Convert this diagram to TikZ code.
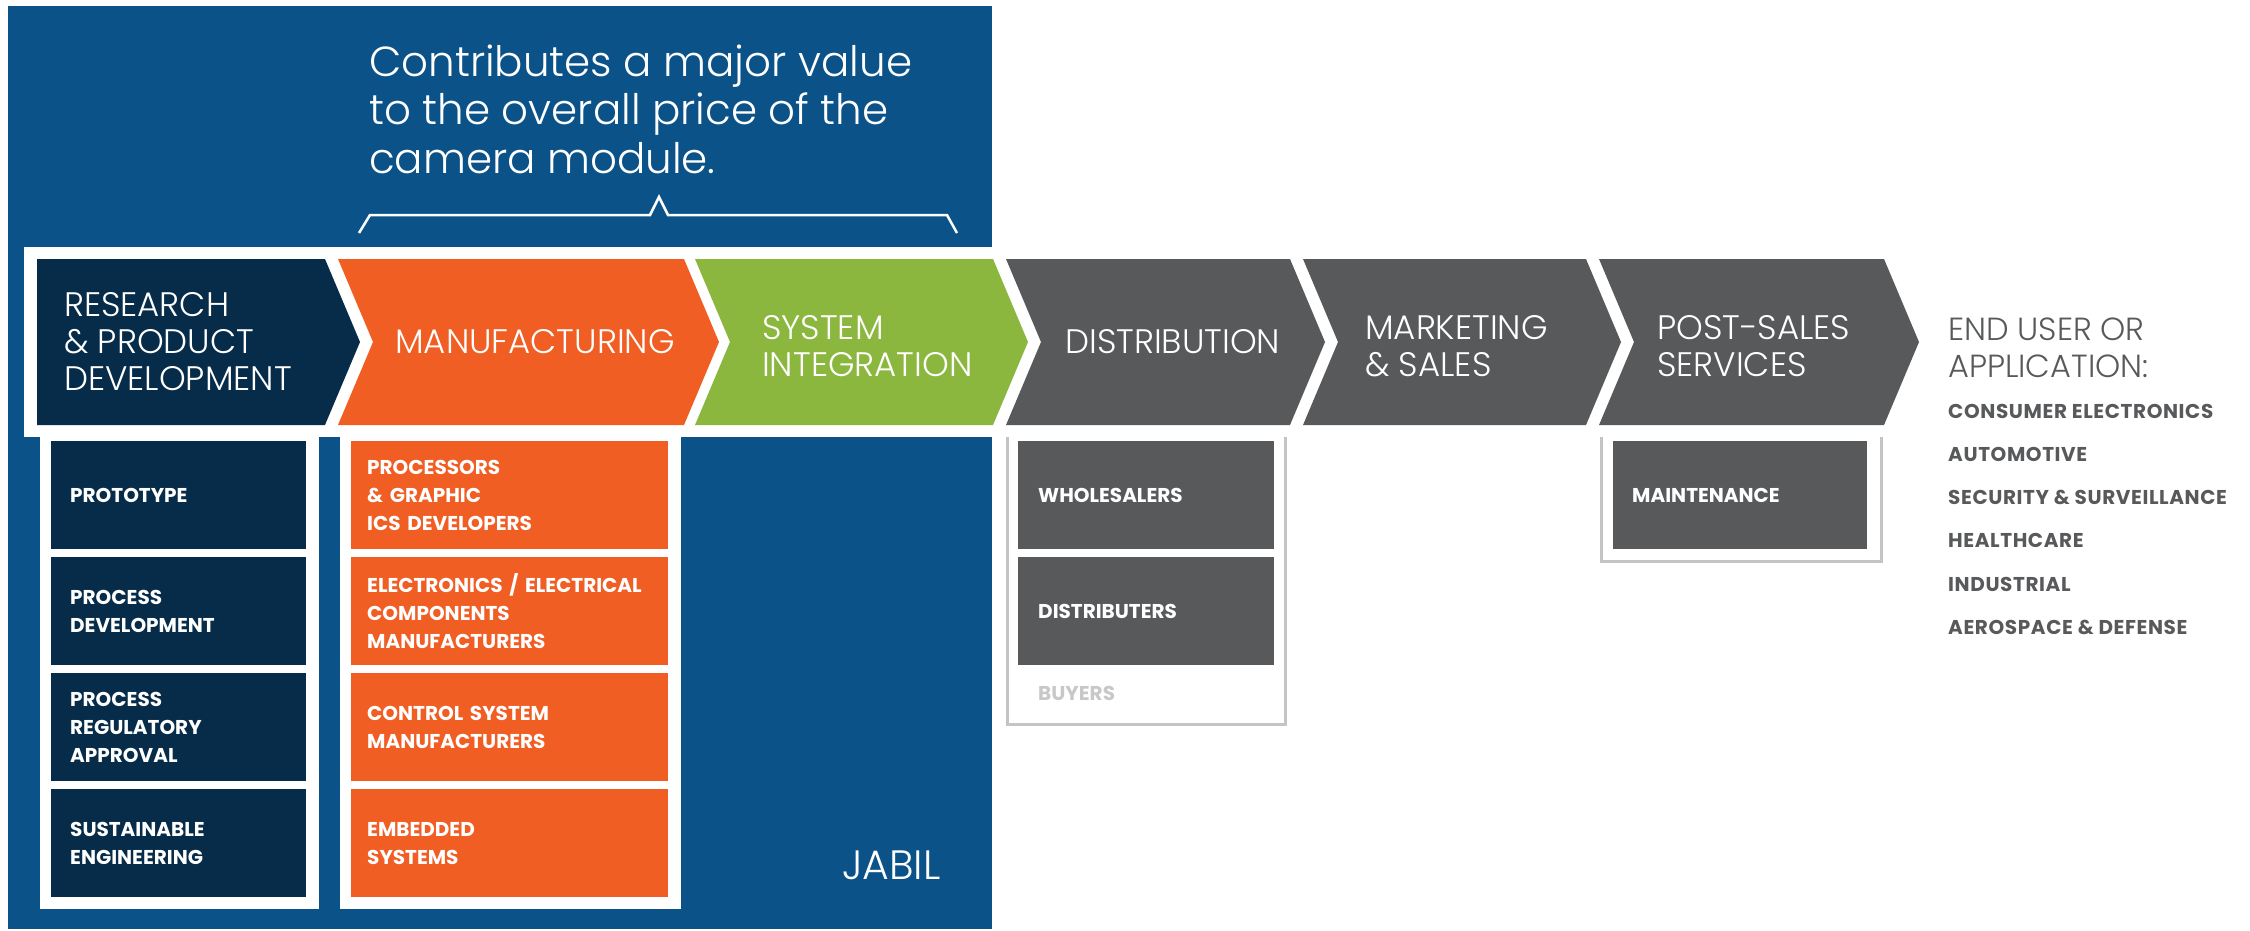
\documentclass[tikz,border=0pt]{standalone}
\usepackage{fontspec}
\setmainfont{Poppins}
\IfFontExistsTF{Poppins Light}{\newfontfamily\lightfont{Poppins Light}}{\newfontfamily\lightfont{Poppins}}
\definecolor{jabilblue}{HTML}{0B5289}
\definecolor{rdnavy}{HTML}{062C49}
\definecolor{mfgorange}{HTML}{F15E24}
\definecolor{sysgreen}{HTML}{8CB73F}
\definecolor{chaingray}{HTML}{58595B}
\definecolor{framegray}{HTML}{C4C4C4}
\definecolor{buyergray}{HTML}{C8C8C8}
\begin{document}
\begin{tikzpicture}[x=1pt, y=-1pt,
    headtext/.style={anchor=west, align=left, text=white, inner sep=0pt, font={\lightfont\fontsize{34}{37}\selectfont}},
    subbox/.style={anchor=north west, align=left, text=white, minimum height=108pt, inner ysep=0pt,
        font={\fontsize{20}{28}\selectfont\bfseries\hyphenpenalty=10000}},
    rdbox/.style={subbox, fill=rdnavy, text width=217pt, inner xsep=19pt},
    mfgbox/.style={subbox, fill=mfgorange, text width=285pt, inner xsep=16pt},
    graybox/.style={subbox, fill=chaingray, text width=216pt, inner xsep=20pt},
    useritem/.style={anchor=base west, inner sep=0pt, text=chaingray,
        font={\fontsize{20}{24}\selectfont\bfseries\addfontfeatures{LetterSpace=3}}}]
    \useasboundingbox (0,0) rectangle (2250,931);
    \begin{scope}
        \fill[jabilblue] (8,6) rectangle (992,929);
        \node[anchor=west, align=left, text=white, inner sep=0pt, font={\lightfont\fontsize{42}{48.5}\selectfont}] (caption) at (369,109)
            {Contributes a major value\\to the overall price of the\\camera module.};
        \draw[white, line width=2.5pt] (359,233) -- (370,215) -- (650,215) -- (659,197) -- (668,215) -- (947,215) -- (957,233);
        \fill[white] (24,247) rectangle (1040,437);
        \fill[white] (40,437) rectangle (319,909);
        \fill[white] (340,437) rectangle (681,909);
        \node[anchor=base west, inner sep=0pt, text=white, font={\lightfont\fontsize{41}{45}\selectfont}] (jabil) at (842,879) {JABIL};
    \end{scope}
    \fill[rdnavy] (37,259) -- (325,259) -- (360,342) -- (325,425) -- (37,425) -- cycle;
    \foreach \l/\r/\c in {338/684/mfgorange, 695/993/sysgreen, 1006/1290/chaingray, 1303/1586/chaingray, 1599/1884/chaingray}
        \fill[\c] (\l,259) -- (\r,259) -- (\r+35,342) -- (\r,425) -- (\l,425) -- (\l+35,342) -- cycle;
    \node[headtext] (rd) at (64,342) {RESEARCH\\\& PRODUCT\\DEVELOPMENT};
    \node[headtext] (mfg) at (395,342) {MANUFACTURING};
    \node[headtext] (sys) at (762,346) {SYSTEM\\INTEGRATION};
    \node[headtext] (dist) at (1065,342) {DISTRIBUTION};
    \node[headtext] (mkt) at (1365,346) {MARKETING\\\& SALES};
    \node[headtext] (post) at (1657,346) {POST-SALES\\SERVICES};
    \node[headtext, text=chaingray, font={\lightfont\fontsize{32}{37}\selectfont}] (enduser) at (1948,348) {END USER OR\\APPLICATION:};
    \node[rdbox] (proto) at (51,441) {PROTOTYPE};
    \node[rdbox] (procdev) at (51,557) {PROCESS\\DEVELOPMENT};
    \node[rdbox] (procreg) at (51,673) {PROCESS\\REGULATORY\\APPROVAL};
    \node[rdbox] (sustain) at (51,789) {SUSTAINABLE\\ENGINEERING};
    \node[mfgbox] (procs) at (351,441) {PROCESSORS\\\& GRAPHIC\\ICS DEVELOPERS};
    \node[mfgbox] (elec) at (351,557) {\mbox{ELECTRONICS / ELECTRICAL}\\COMPONENTS\\MANUFACTURERS};
    \node[mfgbox] (ctrl) at (351,673) {CONTROL SYSTEM\\MANUFACTURERS};
    \node[mfgbox] (embed) at (351,789) {EMBEDDED\\SYSTEMS};
    \draw[framegray, line width=3pt] (1007,437) -- (1007,724) -- (1285,724) -- (1285,437);
    \node[graybox] (whole) at (1018,441) {WHOLESALERS};
    \node[graybox] (distr) at (1018,557) {DISTRIBUTERS};
    \node[anchor=base west, inner sep=0pt, text=buyergray, font={\fontsize{20}{28}\selectfont\bfseries}] (buyers) at (1038,700) {BUYERS};
    \draw[framegray, line width=3pt] (1601,437) -- (1601,561) -- (1881,561) -- (1881,437);
    \node[graybox, inner xsep=19pt] (maint) at (1613,441) {MAINTENANCE};
    \foreach \t/\y [count=\i] in {CONSUMER ELECTRONICS/418, AUTOMOTIVE/461, SECURITY \& SURVEILLANCE/504,
            HEALTHCARE/547, INDUSTRIAL/591, AEROSPACE \& DEFENSE/634}
        \node[useritem] (item\i) at (1948,\y) {\t};
\end{tikzpicture}
\end{document}
